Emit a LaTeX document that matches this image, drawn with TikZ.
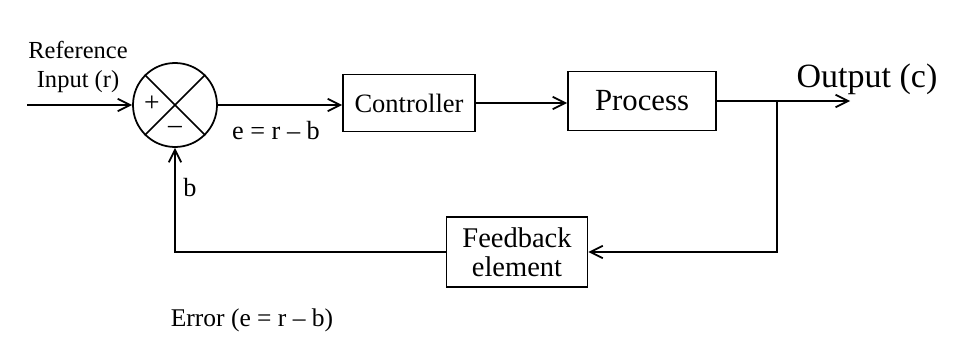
\documentclass[tikz,border=0pt]{standalone}
\usepackage{fontspec}
\setmainfont{Liberation Serif}
\usepackage{tikz}
\usetikzlibrary{arrows.meta,positioning,calc}

\begin{document}
\begin{tikzpicture}[
  x=0.4pt, y=-0.4pt,
  line width=0.7pt,
  blk/.style={draw, line width=0.7pt, align=center, inner sep=2pt},
  sumnode/.style={draw, circle, minimum size=33.6pt, inner sep=0pt},
  lbl/.style={inner sep=0pt, align=center},
  arr/.style={-{Straight Barb[length=5pt, width=5pt]}}]
\useasboundingbox (0,0) rectangle (977,339);
% forward path
\node[sumnode] (sum) at (175,105) {};
\draw (sum.north west) -- (sum.south east);
\draw (sum.north east) -- (sum.south west);
\node[lbl, font=\fontsize{11}{12}\selectfont] (plus) at (152,104) {+};
\node[lbl, font=\fontsize{11}{12}\selectfont] (minus) at (175,130) {–};
\node[blk, minimum width=52.8pt, minimum height=22.8pt, font=\fontsize{10.6}{12}\selectfont] (ctrl) at (409,103) {Controller};
\node[blk, minimum width=59.2pt, minimum height=23.6pt, font=\fontsize{12.3}{14}\selectfont] (proc) at (642,101) {Process};
% feedback path
\node[blk, minimum width=56.4pt, minimum height=28pt, font=\fontsize{11.4}{11.4}\selectfont] (fb) at (517,252) {Feedback\\element};
\coordinate (in) at (27,105);
\coordinate (tap) at (777,101);
\coordinate (out) at (850,101);

\draw[arr] (in) -- (sum.west);
\draw[arr] (sum.east) -- (sum.east -| ctrl.west);
\draw[arr] (ctrl.east) -- (ctrl.east -| proc.west);
\draw[arr] (proc.east) -- (out);
\draw[arr] (tap) |- (fb.east);
\draw[arr] (fb.west) -| (sum.south);
% labels
\node[lbl, font=\fontsize{9.8}{11.5}\selectfont] (refin) at (78,67) {Reference\\Input (r)};
\node[lbl, font=\fontsize{13.6}{15}\selectfont] (outlbl) at (867,79) {Output (c)};
\node[lbl, font=\fontsize{10.5}{12}\selectfont] (elbl) at (276,131) {e = r – b};
\node[lbl, font=\fontsize{10.5}{12}\selectfont] (blbl) at (190,188) {b};
\node[lbl, font=\fontsize{10.2}{12}\selectfont] (errlbl) at (252,320) {Error (e = r – b)};
\end{tikzpicture}
\end{document}
